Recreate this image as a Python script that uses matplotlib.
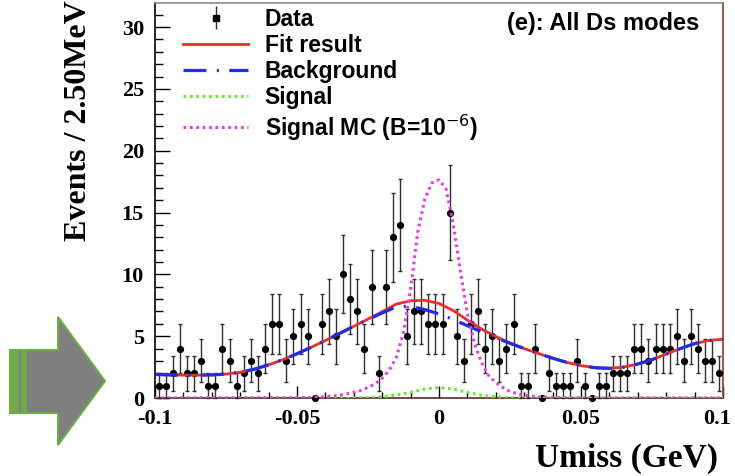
import numpy as np
import matplotlib as mpl
mpl.use("Agg")
import matplotlib.pyplot as plt
from matplotlib.patches import Polygon, Rectangle
from matplotlib.transforms import ScaledTranslation

mpl.rcParams['lines.scale_dashes'] = False
mpl.rcParams['font.family'] = ['Liberation Sans', 'DejaVu Sans']

# data: events per 2.5 MeV bin, Umiss from -0.1 to 0.1 GeV
x_lo, x_hi, n_bins = -0.1, 0.1, 80
counts = np.array([
    1, 1, 2, 4, 2, 2, 3, 1, 1, 4,
    3, 1, 2, 3, 2, 4, 6, 6, 3, 5,
    6, 5, 0, 6, 7, 5, 10, 8, 7, 4,
    9, 2, 9, 13, 14, 5, 7, 7, 6, 6,
    6, 15, 5, 3, 6, 7, 4, 5, 3, 4,
    6, 1, 1, 4, 0, 2, 1, 1, 1, 3,
    1, 0, 1, 1, 2, 2, 2, 4, 4, 3,
    4, 4, 4, 5, 3, 5, 4, 3, 3, 2])

# fit curves
curve_x = np.array([
    -0.100, -0.095, -0.090, -0.085, -0.080, -0.075, -0.070, -0.065, -0.060, -0.055,
    -0.050, -0.045, -0.040, -0.035, -0.030, -0.025, -0.020, -0.015, -0.010, -0.005,
     0.000,  0.005,  0.010,  0.015,  0.020,  0.025,  0.030,  0.035,  0.040,  0.045,
     0.050,  0.055,  0.060,  0.065,  0.070,  0.075,  0.080,  0.085,  0.090,  0.095,
     0.100])
background = np.array([
    1.90, 1.87, 1.85, 1.85, 1.87, 1.93, 2.08, 2.33, 2.68, 3.10,
    3.58, 4.10, 4.65, 5.22, 5.80, 6.35, 6.88, 7.38, 7.42, 7.15,
    6.80, 6.35, 5.85, 5.35, 4.88, 4.42, 4.00, 3.60, 3.22, 2.88,
    2.62, 2.45, 2.40, 2.50, 2.75, 3.10, 3.55, 4.00, 4.40, 4.65,
    4.75])
signal = np.array([
    0, 0, 0, 0, 0, 0, 0, 0, 0, 0,
    0, 0, 0, 0, 0.00, 0.03, 0.10, 0.25, 0.45, 0.72,
    0.85, 0.72, 0.45, 0.22, 0.09, 0.03, 0, 0, 0, 0,
    0, 0, 0, 0, 0, 0, 0, 0, 0, 0,
    0])
fit_result = np.array([
    1.90, 1.87, 1.85, 1.85, 1.87, 1.93, 2.08, 2.33, 2.68, 3.10,
    3.58, 4.10, 4.65, 5.22, 5.80, 6.38, 6.98, 7.60, 7.86, 7.90,
    7.65, 7.07, 6.30, 5.57, 4.97, 4.45, 4.00, 3.60, 3.22, 2.88,
    2.62, 2.45, 2.40, 2.50, 2.75, 3.10, 3.55, 4.00, 4.40, 4.65,
    4.75])

mc_x = np.array([
    -0.100, -0.050, -0.045, -0.040, -0.035, -0.030, -0.0275, -0.025, -0.0225, -0.020,
    -0.0175, -0.015, -0.0125, -0.010, -0.0075, -0.005, -0.0025, 0.000, 0.0025, 0.005,
    0.0075, 0.010, 0.0125, 0.015, 0.0175, 0.020, 0.0225, 0.025, 0.0275, 0.030,
    0.035, 0.040, 0.045, 0.050, 0.100])
signal_mc = np.array([
    0.00, 0.02, 0.05, 0.10, 0.22, 0.45, 0.62, 0.85, 1.15, 1.60,
    2.25, 3.30, 5.30, 8.80, 13.4, 16.1, 17.4, 17.65, 16.9, 14.1,
    10.3, 6.80, 4.40, 2.85, 1.80, 1.25, 0.85, 0.52, 0.35, 0.22,
    0.10, 0.04, 0.01, 0.00, 0.00])

W, H = 735, 476
fig = plt.figure(figsize=(W / 100, H / 100), dpi=100)

def fx(px):
    return px / W

def fy(py):
    return 1 - py / H

ax = fig.add_axes([fx(155), fy(398), fx(723) - fx(155), fy(3) - fy(398)])

edges = np.linspace(x_lo, x_hi, n_bins + 1)
centers = 0.5 * (edges[:-1] + edges[1:])

ax.errorbar(centers, counts, yerr=np.sqrt(counts), fmt='o', color='black',
            ecolor='#303030', elinewidth=1.0, capsize=1.5, capthick=1.0,
            markersize=4.2, zorder=3, clip_on=False)
# legend proxy: square marker with error bar, as in the original
data_proxy = ax.errorbar([np.nan], [np.nan], yerr=[1], fmt='s', color='black',
                         ecolor='#303030', elinewidth=1.0, markersize=4.5)

fit_line, = ax.plot(curve_x, fit_result, color='#e8302a', lw=2.0, zorder=4)
bkg_line, = ax.plot(curve_x, background, color='#1f2ee0', lw=2.3, zorder=5,
                    linestyle=(0, (16.5, 7.5, 1.5, 7.5)))
sig_line, = ax.plot(curve_x, signal, color='#66e83a', lw=2.2, zorder=6,
                    linestyle=(0, (2.0, 2.6)))
mc_line, = ax.plot(mc_x, signal_mc, color='#e040e0', lw=2.2, zorder=7,
                   linestyle=(0, (2.0, 2.6)))

ax.set_xlim(x_lo, x_hi)
ax.set_ylim(0, 31.95)
ax.set_xticks([-0.1, -0.05, 0, 0.05, 0.1])
ax.set_xticklabels(['-0.1', '-0.05', '0', '0.05', '0.1'])
ax.set_xticks(np.arange(-0.1, 0.1001, 0.01), minor=True)
ax.set_yticks(np.arange(0, 31, 5))
ax.set_yticks(np.arange(0, 32, 1), minor=True)

ax.tick_params(axis='both', which='both', direction='in', top=False, right=False)
ax.tick_params(axis='y', which='major', length=11, width=1.0, pad=8)
ax.tick_params(axis='y', which='minor', length=5.5, width=1.0)
ax.tick_params(axis='x', which='major', length=9, width=1.0, pad=8)
ax.tick_params(axis='x', which='minor', length=4.5, width=1.0)
for lab in ax.get_xticklabels() + ax.get_yticklabels():
    lab.set_family('Liberation Serif')
    lab.set_weight('bold')
    lab.set_fontsize(16)
last = ax.get_xticklabels()[-1]
last.set_transform(last.get_transform() + ScaledTranslation(-4 / 72, 0, fig.dpi_scale_trans))

ax.spines['left'].set_color('black')
ax.spines['bottom'].set_color('#5a2c22')
ax.spines['top'].set_color('#8a8a8a')
ax.spines['right'].set_color('#8b3a30')
for s in ax.spines.values():
    s.set_linewidth(1.2)

ax.legend([data_proxy, fit_line, bkg_line, sig_line, mc_line],
          ['Data', 'Fit result', 'Background', 'Signal', 'Signal MC (B=10$^{-6}$)'],
          loc='upper left', bbox_to_anchor=(0.0415, 1.0), frameon=False,
          prop={'family': 'Liberation Sans', 'weight': 'bold', 'size': 16.5},
          handlelength=2.85, handletextpad=0.7, labelspacing=0.14,
          borderaxespad=0, borderpad=0.2)

ax.text(0.958, 0.977, '(e): All Ds modes', transform=ax.transAxes, ha='right', va='top',
        fontsize=17, fontweight='bold', family='Liberation Sans')

fig.text(fx(78), fy(0), 'Events / 2.50MeV', rotation=90, ha='center', va='top',
         fontsize=23, fontweight='bold', family='Liberation Serif')
fig.text(fx(718), fy(467), 'Umiss (GeV)', ha='right', va='baseline',
         fontsize=24, fontweight='bold', family='Liberation Serif')

# block arrow at lower left
arrow_pts = [(10, 350), (58, 350), (58, 317), (105, 381), (58, 445), (58, 413), (10, 413)]
fig.patches.append(Polygon([(fx(a), fy(b)) for a, b in arrow_pts], closed=True,
                           transform=fig.transFigure, facecolor='#7f7f7f',
                           edgecolor='#70ad47', lw=1.5))
for x0, x1, filled in [(10, 16, True), (18, 22, False), (24, 26, True)]:
    fig.patches.append(Rectangle((fx(x0), fy(413)), fx(x1) - fx(x0), fy(350) - fy(413),
                                 transform=fig.transFigure, lw=1.2,
                                 facecolor='#70ad47' if filled else '#7f7f7f',
                                 edgecolor='#70ad47'))

fig.savefig('out.png', dpi=100)
